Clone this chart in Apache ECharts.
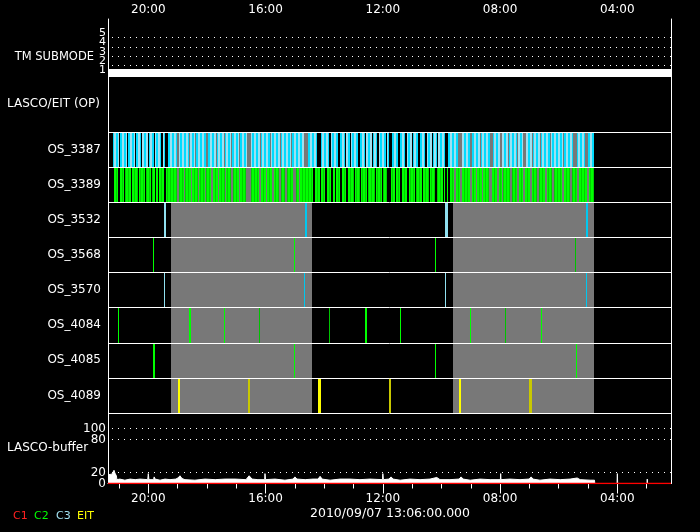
<!DOCTYPE html>
<html><head><meta charset="utf-8">
<script src="https://cdn.jsdelivr.net/npm/echarts@6/dist/echarts.min.js"></script>
<style>html,body{margin:0;padding:0;background:#000;}#c{width:700px;height:532px;}</style>
</head><body><div id="c"></div>
<script>
// ---------------- data ----------------
const rowNames = ['OS_3387','OS_3389','OS_3532','OS_3568','OS_3570','OS_4084','OS_4085','OS_4089'];
const hourTicks = [4, 8, 12, 16, 20];
const minorHourTicks = [3, 5, 6, 7, 9, 10, 11, 13, 14, 15, 17, 18, 19, 21];
const submodeLevels = [1, 2, 3, 4, 5];
const submodeLabelsOdd = [1, 3, 5];
const submodeLabelsEven = [2, 4];
const submodeSegments = [[21.375, 2.17, 1]];
const bufferTicksA = [0, 80];
const bufferTicksB = [20, 100];
const bufferGuides = [20, 80, 100];
const dateLabel = '2010/09/07 13:06:00.000';
const legendNames = ['C1', 'C2', 'C3', 'EIT'];
const grayBands = [[19.23, 14.43], [9.60, 4.79]];

// dense image runs [start hour, end hour]
const os3387Runs = [
 [21.21,21.00],[20.97,20.73],[20.69,20.45],[20.42,20.25],[20.22,20.01],[19.98,19.81],[19.77,19.57],[19.50,19.43],
 [19.33,19.02],[18.95,18.61],[18.58,18.41],[18.37,18.03],[17.96,17.69],[17.66,17.42],[17.38,17.18],[17.15,16.91],
 [16.87,16.63],[16.50,16.19],[16.16,15.85],[15.81,15.51],[15.47,15.13],[15.10,14.69],[14.55,14.25],[14.11,13.84],
 [13.77,13.53],[13.46,13.29],[13.26,13.12],[13.09,12.85],[12.78,12.61],[12.57,12.37],[12.33,12.20],[12.13,11.89],
 [11.86,11.79],[11.69,11.48],[11.41,11.24],[11.17,11.00],[10.97,10.80],[10.73,10.56],[10.49,10.32],[10.29,10.15],
 [10.12,9.88],[9.78,9.43],[9.30,9.02],[8.96,8.68],[8.65,8.34],[8.24,8.00],[7.93,7.73],[7.69,7.42],[7.39,7.22],
 [7.11,6.91],[6.88,6.64],[6.60,6.30],[6.26,5.85],[5.82,5.51],[5.37,5.10],[5.00,4.79]
];
const os3389Runs = [
 [21.17,21.03],[20.97,20.83],[20.80,20.59],[20.56,20.35],[20.32,20.11],[20.08,19.91],[19.87,19.77],[19.74,19.67],
 [19.64,19.46],[19.40,19.02],[18.95,18.78],[18.75,18.54],[18.51,18.30],[18.27,18.07],[18.03,17.86],[17.79,17.62],
 [17.59,17.38],[17.35,17.18],[17.11,16.91],[16.87,16.67],[16.50,16.22],[16.16,15.99],[15.95,15.78],[15.71,15.54],
 [15.47,15.34],[15.27,15.06],[14.96,14.86],[14.83,14.38],[14.31,14.14],[14.11,13.97],[13.90,13.77],[13.70,13.63],
 [13.60,13.46],[13.39,13.26],[13.19,12.98],[12.95,12.78],[12.74,12.54],[12.50,12.27],[12.23,12.03],[11.99,11.86],
 [11.72,11.58],[11.55,11.41],[11.34,11.17],[11.11,10.90],[10.87,10.66],[10.63,10.42],[10.39,10.22],[10.15,9.95],
 [9.91,9.88],[9.81,9.78],[9.71,9.57],[9.50,9.37],[9.30,9.02],[8.96,8.82],[8.79,8.62],[8.58,8.38],[8.27,8.10],
 [8.04,7.93],[7.90,7.66],[7.59,7.42],[7.35,7.22],[7.15,6.98],[6.91,6.74],[6.67,6.47],[6.40,6.23],[6.16,5.89],
 [5.82,5.61],[5.54,5.37],[5.31,5.03],[4.97,4.79]
];
// sparse images [start hour, end hour, variant]
const os3532 = [[19.47,19.40,1],[14.65,14.59,0],[9.88,9.78,1],[5.07,5.00,0]];
const os3568 = [[19.84,19.81,0],[15.03,15.00,0],[10.22,10.19,0],[5.43,5.40,1]];
const os3570 = [[19.46,19.43,1],[14.69,14.66,0],[9.88,9.85,1],[5.07,5.04,0]];
const os4084 = [[21.03,21.00,0],[18.61,18.55,0],[17.42,17.39,0],[16.22,16.19,1],[13.84,13.81,1],
                [12.61,12.55,0],[11.41,11.38,0],[9.02,8.99,0],[7.83,7.80,1],[6.62,6.56,0]];
const os4085 = [[19.84,19.77,0],[15.03,15.00,0],[10.22,10.19,0],[5.42,5.38,0]];
const os4089 = [[19.00,18.91,0],[16.60,16.53,1],[14.22,14.11,0],[11.79,11.72,1],[9.40,9.33,0],[7.01,6.91,1]];

// LASCO buffer fill [hour, value]
const lascoBuffer = [
 [21.37,16],[21.31,13],[21.24,17],[21.17,24],[21.14,19],[21.09,14],[21.07,7],[20.97,8],[20.80,6],[20.62,8],
 [20.45,7],[20.28,8],[20.02,7],[20.00,18],[19.98,7],[19.82,7],[19.80,12],[19.77,8],[19.60,6],[19.43,8],
 [19.26,7],[19.06,8],[18.99,10],[18.92,14],[18.85,9],[18.75,7],[18.41,6],[18.07,8],[17.72,7],[17.38,8],
 [17.04,8],[16.67,7],[16.56,14],[16.46,8],[16.26,7],[16.03,7],[16.02,18],[16.00,7],[15.68,8],[15.34,6],
 [15.06,8],[15.00,12],[14.93,8],[14.65,7],[14.38,8],[14.21,8],[14.14,13],[14.07,8],[13.80,6],[13.46,8],
 [13.12,8],[12.78,7],[12.44,8],[12.01,7],[12.00,18],[11.98,7],[11.79,8],[11.72,12],[11.65,8],[11.41,6],
 [11.07,8],[10.73,7],[10.39,8],[10.16,11],[10.05,7],[9.71,7],[9.40,8],[9.33,12],[9.26,8],[9.02,6],
 [8.68,8],[8.34,7],[7.99,7],[7.98,18],[7.97,7],[7.66,8],[7.32,7],[7.01,8],[6.94,12],[6.88,8],
 [6.64,6],[6.30,8],[5.95,7],[5.61,8],[5.37,10],[5.27,7],[4.93,6],[4.78,6],[4.77,0],[4.01,0],
 [4.00,18],[3.99,0],[2.99,0],[2.98,8],[2.97,0],[2.17,0]
];
const c1Buffer = [[21.375,0],[2.17,0]];

// ---------------- styles ----------------
const X_MIN = 2.17, X_MAX = 21.375;
const FONT = 'DejaVu Sans';
const COLORS = {
  C3: ['#00c8f0', '#90e0f0'],
  C2: ['#00ff00', '#00c400'],
  EIT: ['#ffff00', '#c8c800']
};
const INSTR = ['C3', 'C2', 'EIT'];
function makePattern(cols) {
  const c = document.createElement('canvas');
  c.width = cols.length; c.height = 1;
  const g = c.getContext('2d');
  cols.forEach((col, i) => { g.fillStyle = col; g.fillRect(i, 0, 1, 1); });
  return { image: c, repeat: 'repeat' };
}
const PATTERNS = {
  C3: makePattern(['#00dcff', '#00dcff', '#a0e0f0', '#a0e0f0']),
  C2: makePattern(['#00ff00', '#00ff00', '#00d000'])
};

// build OS items: [row, start, end, variant(2 = dense pattern), instrument]
const osItems = [];
os3387Runs.forEach(r => osItems.push([0, r[0], r[1], 2, 0]));
os3389Runs.forEach(r => osItems.push([1, r[0], r[1], 2, 1]));
[[2, os3532, 0], [3, os3568, 1], [4, os3570, 0], [5, os4084, 1], [6, os4085, 1], [7, os4089, 2]]
  .forEach(([row, arr, ins]) => arr.forEach(e => osItems.push([row, e[0], e[1], e[2], ins])));

function renderOS(params, api) {
  const row = api.value(0);
  const p0 = api.coord([api.value(1), row]);
  const p1 = api.coord([api.value(2), row]);
  const bh = api.size([0, 1])[1];
  let x0 = Math.round(Math.min(p0[0], p1[0]));
  let x1 = Math.round(Math.max(p0[0], p1[0]));
  if (x1 - x0 < 1) x1 = x0 + 1;
  const top = Math.round(p0[1] - bh / 2), bot = Math.round(p0[1] + bh / 2);
  const ins = INSTR[api.value(4)];
  const v = api.value(3);
  const fill = v === 2 ? PATTERNS[ins] : COLORS[ins][v];
  return { type: 'rect', shape: { x: x0, y: top, width: x1 - x0, height: bot - top }, style: { fill: fill } };
}
function renderBand(params, api) {
  const a = api.coord([api.value(0), 0]);
  const b = api.coord([api.value(1), 0]);
  const cs = params.coordSys;
  const x0 = Math.round(Math.min(a[0], b[0])), x1 = Math.round(Math.max(a[0], b[0]));
  return { type: 'rect', shape: { x: x0, y: cs.y, width: x1 - x0, height: cs.height }, style: { fill: '#787878' } };
}
function renderSubmode(params, api) {
  const a = api.coord([api.value(0), api.value(2)]);
  const b = api.coord([api.value(1), api.value(2)]);
  const x0 = Math.min(a[0], b[0]);
  return { type: 'rect', shape: { x: x0, y: Math.round(a[1]) - 6, width: Math.abs(b[0] - a[0]), height: 8 }, style: { fill: '#ffffff' } };
}
const hh = v => (v < 10 ? '0' : '') + v + ':00';
const dotted = { color: '#ffffff', width: 1, type: [1, 5] };
const lbl = { color: '#ffffff', fontFamily: FONT, fontSize: 12 };
const noAxisParts = { axisLine: { show: false }, axisTick: { show: false }, splitLine: { show: false } };
function tmAxis(vals) {
  return Object.assign({ gridIndex: 1, type: 'value', min: 0.768, max: 6.982, position: 'left',
    axisLabel: { customValues: vals, color: '#ffffff', fontFamily: FONT, fontSize: 11, margin: 2,
                 verticalAlign: 'bottom', lineHeight: 9, showMinLabel: true, showMaxLabel: true } }, noAxisParts);
}
function bufAxis(vals) {
  return Object.assign({ gridIndex: 3, type: 'value', min: 0, max: 128.18, position: 'left',
    axisLabel: Object.assign({ customValues: vals, margin: 2, showMinLabel: true, showMaxLabel: true }, lbl) }, noAxisParts);
}

const option = {
  backgroundColor: '#000000',
  animation: false,
  textStyle: { fontFamily: FONT },
  grid: [
    { left: 108, top: 19, width: 563, height: 464.5 },
    { left: 108, top: 19, width: 563, height: 58 },
    { left: 108, top: 132, width: 563, height: 281 },
    { left: 108, top: 413, width: 563, height: 70.5 }
  ],
  xAxis: [
    { gridIndex: 0, type: 'value', min: X_MIN, max: X_MAX, inverse: true, position: 'top',
      axisLine: { show: true, lineStyle: { color: '#ffffff', width: 1 } },
      axisTick: { show: true, inside: true, length: 10, customValues: hourTicks, lineStyle: { color: '#ffffff' } },
      axisLabel: Object.assign({ customValues: hourTicks, formatter: hh, margin: 3 }, lbl),
      splitLine: { show: false } },
    { gridIndex: 0, type: 'value', min: X_MIN, max: X_MAX, inverse: true, position: 'top',
      axisLine: { show: false },
      axisTick: { show: true, inside: true, length: 5, customValues: minorHourTicks, lineStyle: { color: '#ffffff' } },
      axisLabel: { show: false }, splitLine: { show: false } },
    { gridIndex: 1, type: 'value', min: X_MIN, max: X_MAX, inverse: true, show: false },
    { gridIndex: 2, type: 'value', min: X_MIN, max: X_MAX, inverse: true, show: false },
    { gridIndex: 3, type: 'value', min: X_MIN, max: X_MAX, inverse: true, position: 'bottom',
      axisLine: { show: false }, axisTick: { show: false }, splitLine: { show: false },
      axisLabel: Object.assign({ customValues: hourTicks, formatter: hh, margin: 9 }, lbl) }
  ],
  yAxis: [
    { gridIndex: 0, type: 'value', min: 0, max: 1, position: 'left',
      axisLine: { show: true, lineStyle: { color: '#ffffff' } }, axisTick: { show: false },
      axisLabel: { show: false }, splitLine: { show: false } },
    { gridIndex: 0, type: 'value', min: 0, max: 1, position: 'right',
      axisLine: { show: true, lineStyle: { color: '#ffffff' } }, axisTick: { show: false },
      axisLabel: { show: false }, splitLine: { show: false } },
    tmAxis(submodeLabelsOdd),
    { gridIndex: 2, type: 'category', data: rowNames, inverse: true, z: 3,
      axisLine: { show: false }, axisTick: { show: false },
      axisLabel: Object.assign({ margin: 7, interval: 0 }, lbl),
      splitLine: { show: true, lineStyle: { color: '#ffffff', width: 1 } } },
    bufAxis(bufferTicksA),
    tmAxis(submodeLabelsEven),
    bufAxis(bufferTicksB)
  ],
  graphic: [
    { type: 'text', right: 700 - 94, top: 51, style: { text: 'TM SUBMODE', fill: '#fff', font: '11.5px "DejaVu Sans"' } },
    { type: 'text', left: 7, top: 98, style: { text: 'LASCO/EIT (OP)', fill: '#fff', font: '12px "DejaVu Sans"' } },
    { type: 'text', left: 7, top: 442, style: { text: 'LASCO-buffer', fill: '#fff', font: '12px "DejaVu Sans"' } },
    { type: 'text', x: 390, y: 507, style: { text: dateLabel, fill: '#fff', font: '12.5px "DejaVu Sans"', align: 'center' } },
    { type: 'text', left: 13, top: 511, style: { text: legendNames[0], fill: '#ff2020', font: '11px "DejaVu Sans"' } },
    { type: 'text', left: 34, top: 511, style: { text: legendNames[1], fill: '#00ff00', font: '11px "DejaVu Sans"' } },
    { type: 'text', left: 56, top: 511, style: { text: legendNames[2], fill: '#a0e0f0', font: '11px "DejaVu Sans"' } },
    { type: 'text', left: 77, top: 511, style: { text: legendNames[3], fill: '#ffff00', font: '11px "DejaVu Sans"' } }
  ],
  series: [
    { type: 'custom', name: 'submode', xAxisIndex: 2, yAxisIndex: 2, data: submodeSegments, renderItem: renderSubmode,
      clip: true, silent: true,
      markLine: { silent: true, symbol: ['none', 'none'], label: { show: false }, lineStyle: dotted,
                  data: submodeLevels.slice(1).map(v => ({ yAxis: v })) } },
    { type: 'custom', name: 'bands', xAxisIndex: 3, yAxisIndex: 3, z: 1, data: grayBands, renderItem: renderBand, silent: true },
    { type: 'custom', name: 'images', xAxisIndex: 3, yAxisIndex: 3, z: 2, data: osItems, renderItem: renderOS, silent: true,
      encode: { x: [1, 2], y: 0 } },
    { type: 'line', name: 'buffer', xAxisIndex: 4, yAxisIndex: 4, data: lascoBuffer, showSymbol: false, silent: true,
      lineStyle: { color: '#ffffff', width: 1 }, itemStyle: { color: '#ffffff' },
      areaStyle: { color: '#ffffff', opacity: 1 },
      markLine: { silent: true, symbol: ['none', 'none'], label: { show: false }, lineStyle: dotted,
                  data: bufferGuides.map(v => ({ yAxis: v })) } },
    { type: 'line', name: 'C1', xAxisIndex: 4, yAxisIndex: 4, data: c1Buffer, showSymbol: false, silent: true, z: 5,
      lineStyle: { color: '#ff0000', width: 1.5 } }
  ]
};
const chart = echarts.init(document.getElementById('c'), null, { renderer: 'canvas' });
chart.setOption(option);
</script></body></html>
